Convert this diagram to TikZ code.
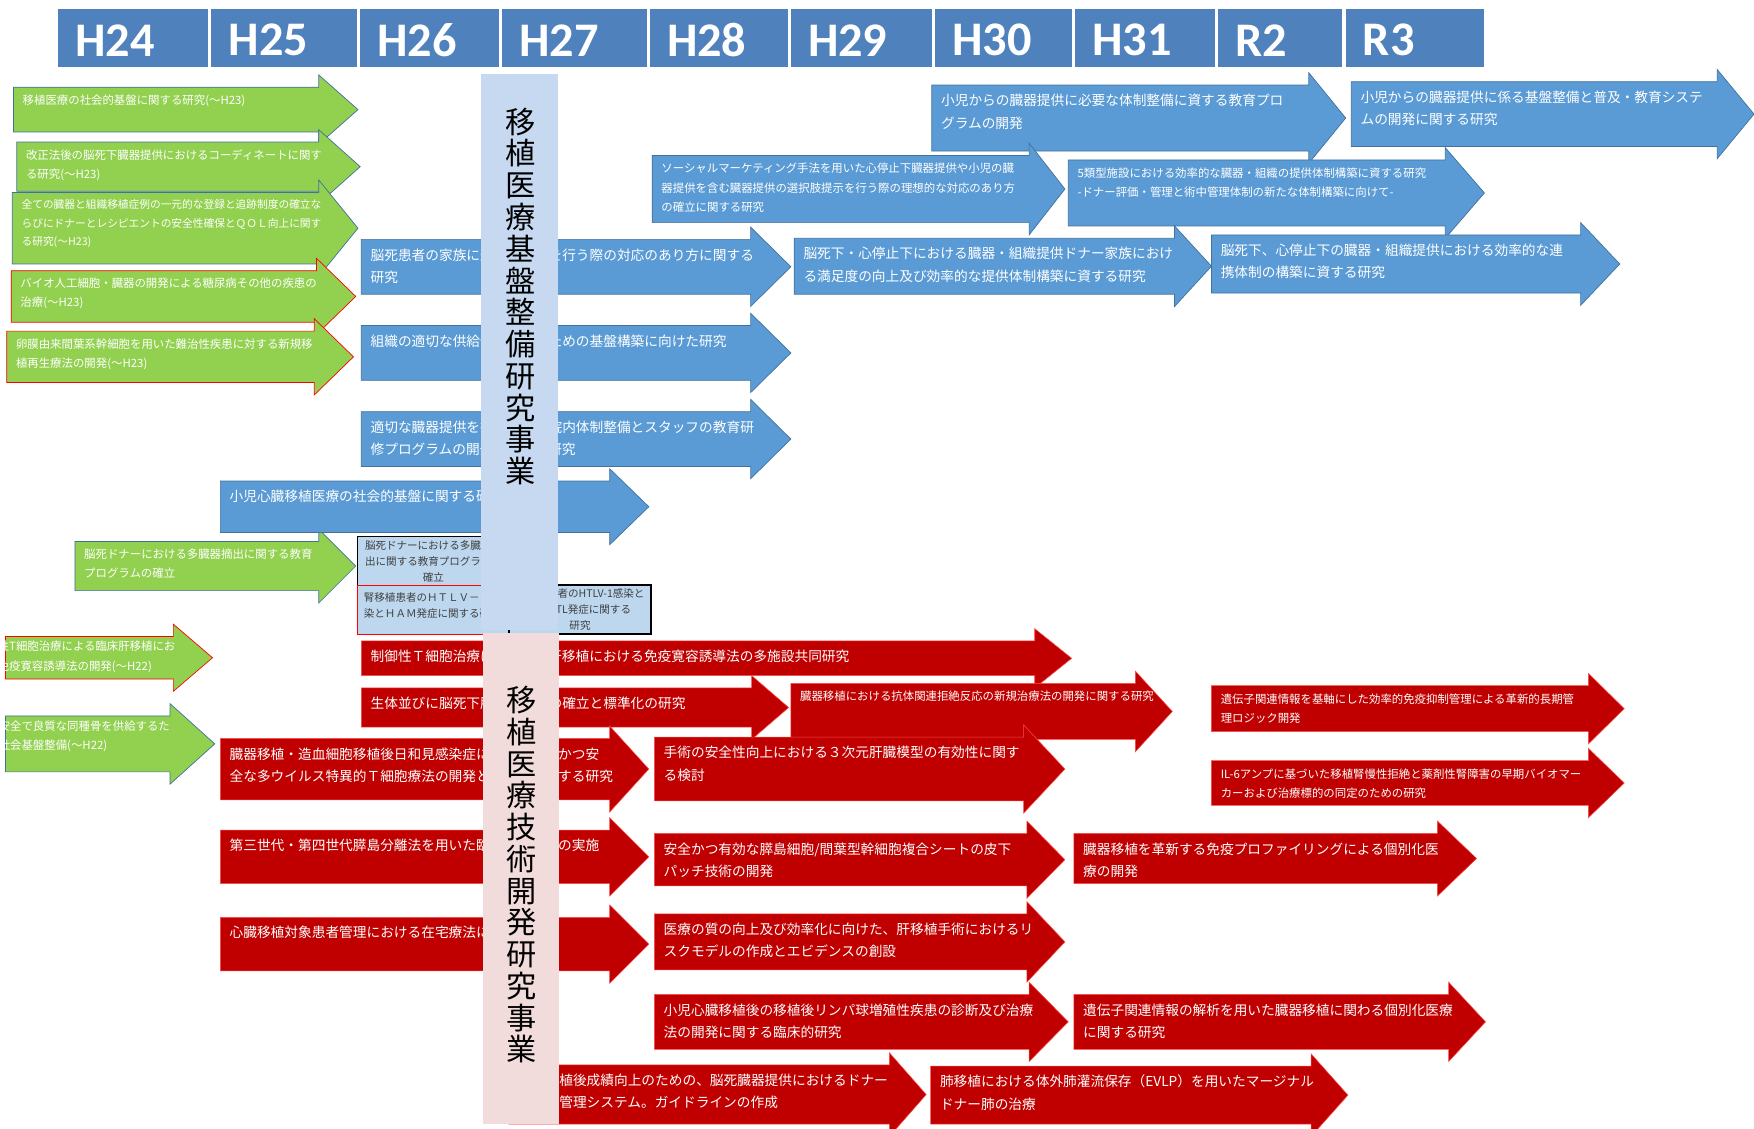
\documentclass[tikz,border=0pt]{standalone}
\usepackage{fontspec}
\setmainfont{Noto Sans CJK JP}
\newfontfamily\hdrfont{Carlito}
\usepackage{xcolor}
\usepackage{tikz}

\definecolor{hdrblue}{HTML}{4F81BD}
\definecolor{arrblue}{HTML}{5B9BD5}
\definecolor{edgeblue}{HTML}{41719C}
\definecolor{arrred}{HTML}{C00000}
\definecolor{arrgreen}{HTML}{92D050}
\definecolor{boxblue}{HTML}{BDD7EE}
\definecolor{bnrblue}{HTML}{C6D9F0}
\definecolor{bnrpink}{HTML}{F2DCDB}

% block arrow: style, name, left, top, head start, tip, bottom, text style, text
\newcommand{\resarrow}[9]{%
  \path[#1] (#3,#4) -- (#5,#4) -- (#5,#4-11) -- (#6,{(#4+#7)/2}) -- (#5,#7+11) -- (#5,#7) -- (#3,#7) -- cycle;
  \node[#8, anchor=north west] (#2) at (#3+8,#4) {#9};
}

\begin{document}
\begin{tikzpicture}[
    x=0.0224cm, y=-0.0224cm,
    every node/.style={inner sep=0pt},
    hdr/.style={fill=hdrblue},
    hdrtxt/.style={font=\hdrfont\bfseries\fontsize{27.5}{27.5}\selectfont, text=white},
    bl/.style={fill=arrblue, draw=edgeblue, line width=0.4pt},
    rd/.style={fill=arrred, draw=red!70!white, line width=0.3pt},
    grnb/.style={fill=arrgreen, draw=edgeblue, line width=0.4pt},
    grnr/.style={fill=arrgreen, draw=red, line width=0.4pt},
    tl/.style={align=left, text=white, font=\fontsize{7.8}{12.75}\selectfont, yshift=-5pt},
    tm/.style={align=left, text=white, font=\fontsize{6.5}{11}\selectfont, yshift=-4.3pt},
    ts/.style={align=left, text=white, font=\fontsize{6.5}{11}\selectfont, yshift=-4pt},
    tx/.style={align=left, text=white, font=\fontsize{6.1}{10.5}\selectfont, yshift=-4pt},
    sbox/.style={fill=boxblue, line width=0.6pt},
    stxt/.style={text=black!75, font=\fontsize{6}{9.2}\selectfont},
    bnr/.style={font=\fontsize{17.2}{18.1}\selectfont, align=center, text=black}
  ]
  \useasboundingbox (0,0) rectangle (1568,1009);
  \clip (0,0) rectangle (1568,1009);

  % fiscal years
  \foreach \lab/\xa/\xb in {H24/52/186, H25/189/319, H26/322/446, H27/449/578, H28/581/704,
                            H29/707/833, H30/836/958, H31/961/1086, R2/1089/1200, R3/1203/1327} {
    \fill[hdr] (\xa,8) rectangle (\xb,60);
    \node[hdrtxt, anchor=west] (h-\lab) at (\xa+15,36) {\lab};
  }

  % earlier studies (green)
  \resarrow{grnb}{g1}{12}{78}{285}{320}{118}{ts}{移植医療の社会的基盤に関する研究(〜H23)}
  \resarrow{grnb}{g2}{15}{127}{285}{322}{171}{ts}{改正法後の脳死下臓器提供におけるコーディネートに関す\\る研究(〜H23)}
  \resarrow{grnb}{g3}{11}{172}{285}{320}{236}{tx}{全ての臓器と組織移植症例の一元的な登録と追跡制度の確立な\\らびにドナーとレシピエントの安全性確保とＱＯＬ向上に関す\\る研究(〜H23)}
  \resarrow{grnr}{g4}{10}{242}{283}{318}{288}{ts}{バイオ人工細胞・臓器の開発による糖尿病その他の疾患の\\治療(〜H23)}
  \resarrow{grnr}{g5}{6}{296}{281}{316}{342}{ts}{卵膜由来間葉系幹細胞を用いた難治性疾患に対する新規移\\植再生療法の開発(〜H23)}
  \resarrow{grnb}{g6}{67}{484}{285}{318}{528}{ts}{脳死ドナーにおける多臓器摘出に関する教育\\プログラムの確立}
  \resarrow{grnr}{g7}{5}{569}{155}{190}{607}{ts,xshift=-0.8cm,yshift=1.5pt}{制御性T細胞治療による臨床肝移植にお\\ける免疫寛容誘導法の開発(〜H22)}
  \resarrow{grnb}{g8}{5}{640}{152}{192}{690}{ts,xshift=-0.78cm,yshift=1.5pt}{\hspace*{2em}安全で良質な同種骨を供給するた\\めの社会基盤整備(〜H22)}

  % infrastructure studies (blue)
  \resarrow{bl}{b1}{833}{76}{1170}{1203}{135}{tl}{小児からの臓器提供に必要な体制整備に資する教育プロ\\グラムの開発}
  \resarrow{bl}{b2}{1208}{73}{1535}{1568}{131}{tl}{小児からの臓器提供に係る基盤整備と普及・教育システ\\ムの開発に関する研究}
  \resarrow{bl}{b3}{583}{139}{920}{952}{199}{tm}{ソーシャルマーケティング手法を用いた心停止下臓器提供や小児の臓\\器提供を含む臓器提供の選択肢提示を行う際の理想的な対応のあり方\\の確立に関する研究}
  \resarrow{bl}{b4}{955}{143}{1292}{1327}{202}{tm}{5類型施設における効率的な臓器・組織の提供体制構築に資する研究\\-ドナー評価・管理と術中管理体制の新たな体制構築に向けて-}
  \resarrow{bl}{b5}{710}{213}{1050}{1083}{263}{tl}{脳死下・心停止下における臓器・組織提供ドナー家族におけ\\る満足度の向上及び効率的な提供体制構築に資する研究}
  \resarrow{bl}{b6}{1083}{210}{1413}{1448}{262}{tl}{脳死下、心停止下の臓器・組織提供における効率的な連\\携体制の構築に資する研究}
  \resarrow{bl}{ba}{323}{214}{671}{707}{263}{tl}{脳死患者の家族に選択肢提示を行う際の対応のあり方に関する\\研究}
  \resarrow{bl}{bb}{323}{291}{671}{707}{340}{tl}{組織の適切な供給体制構築のための基盤構築に向けた研究}
  \resarrow{bl}{bc}{323}{368}{671}{707}{417}{tl}{適切な臓器提供を行うための院内体制整備とスタッフの教育研\\修プログラムの開発に関する研究}
  \resarrow{bl}{bd}{197}{430}{545}{580}{476}{tl}{小児心臓移植医療の社会的基盤に関する研究}

  % technology studies (red)
  \resarrow{rd}{r1}{323}{573}{925}{958}{604}{tl}{制御性Ｔ細胞治療による臨床肝移植における免疫寛容誘導法の多施設共同研究}
  \resarrow{rd}{r2}{323}{615}{672}{705}{650}{tl}{生体並びに脳死下肝移植手術の確立と標準化の研究}
  \resarrow{rd}{r3}{707}{611}{1015}{1048}{661}{tm}{臓器移植における抗体関連拒絶反応の新規治療法の開発に関する研究}
  \resarrow{rd}{r4}{1083}{613}{1420}{1452}{654}{tm}{遺伝子関連情報を基軸にした効率的免疫抑制管理による革新的長期管\\理ロジック開発}
  \resarrow{rd}{r5}{1083}{680}{1420}{1452}{720}{tm}{IL-6アンプに基づいた移植腎慢性拒絶と薬剤性腎障害の早期バイオマー\\カーおよび治療標的の同定のための研究}
  \resarrow{rd}{r6}{197}{660}{545}{580}{715}{tl}{臓器移植・造血細胞移植後日和見感染症に対する有効かつ安\\全な多ウイルス特異的Ｔ細胞療法の開発と実用化に関する研究}
  \resarrow{rd}{r7}{585}{659}{915}{952}{716}{tl}{手術の安全性向上における３次元肝臓模型の有効性に関す\\る検討}
  \resarrow{rd}{r8}{197}{742}{545}{580}{790}{tl}{第三世代・第四世代膵島分離法を用いた臨床膵島移植の実施}
  \resarrow{rd}{r9}{585}{745}{918}{952}{792}{tl}{安全かつ有効な膵島細胞/間葉型幹細胞複合シートの皮下\\パッチ技術の開発}
  \resarrow{rd}{r10}{960}{745}{1285}{1320}{790}{tl}{臓器移植を革新する免疫プロファイリングによる個別化医\\療の開発}
  \resarrow{rd}{r11}{197}{820}{545}{580}{868}{tl}{心臓移植対象患者管理における在宅療法に関する研究}
  \resarrow{rd}{r12}{585}{817}{918}{952}{867}{tl}{医療の質の向上及び効率化に向けた、肝移植手術におけるリ\\スクモデルの作成とエビデンスの創設}
  \resarrow{rd}{r13}{585}{889}{920}{955}{938}{tl}{小児心臓移植後の移植後リンパ球増殖性疾患の診断及び治療\\法の開発に関する臨床的研究}
  \resarrow{rd}{r14}{960}{889}{1295}{1328}{938}{tl}{遺伝子関連情報の解析を用いた臓器移植に関わる個別化医療\\に関する研究}
  \resarrow{rd}{r15}{455}{952}{795}{828}{1005}{tl}{臓器移植後成績向上のための、脳死臓器提供におけるドナー\\評価・管理システム。ガイドラインの作成}
  \resarrow{rd}{r16}{832}{953}{1172}{1205}{1005}{tl}{肺移植における体外肺灌流保存（EVLP）を用いたマージナル\\ドナー肺の治療}

  % small study boxes
  \filldraw[sbox, draw=black] (320,480) rectangle (455,523);
  \node[stxt, align=center] (s1) at (387.5,502) {脳死ドナーにおける多臓器摘\\出に関する教育プログラムの\\確立};
  \filldraw[sbox, draw=red] (320,523) rectangle (455,567);
  \node[stxt, align=left, anchor=north west] (s2) at (325,529) {腎移植患者のＨＴＬＶ－１感\\染とＨＡＭ発症に関する研究};
  \filldraw[sbox, draw=black, line width=1pt] (455,523) rectangle (582,567);
  \node[stxt, align=center] (s3) at (518.5,545) {腎移植患者のHTLV-1感染と\\及びATL発症に関する\\研究};

  % programme banners
  \fill[bnrblue] (430,66) rectangle (499,563);
  \node[bnr] (prog1) at (465,265) {移\\植\\医\\療\\基\\盤\\整\\備\\研\\究\\事\\業};
  \fill[bnrpink] (432,566) rectangle (500,1005);
  \node[bnr] (prog2) at (466,782) {移\\植\\医\\療\\技\\術\\開\\発\\研\\究\\事\\業};
\end{tikzpicture}
\end{document}
